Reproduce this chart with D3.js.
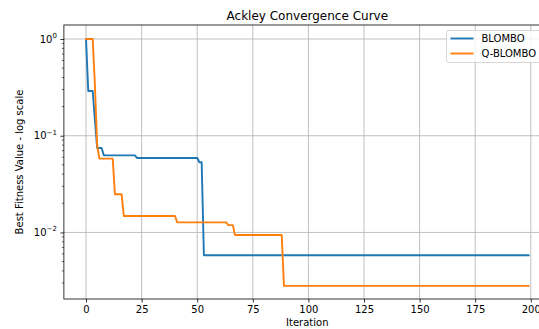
<!DOCTYPE html>
<html>
<head>
<meta charset="utf-8">
<script src="https://cdn.jsdelivr.net/npm/d3@7"></script>
<style>
  body { margin: 0; background: #fff; }
  svg { display: block; font-family: "DejaVu Sans", sans-serif; }
</style>
</head>
<body>
<div id="chart"></div>
<script>
// data (vertices of the step curves)
var blomboIter = [0, 1, 3, 4, 5, 7, 8, 22, 23, 50, 51, 52, 53, 199];
var blomboBest = [1.0, 0.29, 0.29, 0.145, 0.0746, 0.0746, 0.0627, 0.0627, 0.0588, 0.0588, 0.0531, 0.0531, 0.0058, 0.0058];

var qblomboIter = [0, 3, 4, 5, 6, 12, 13, 16, 17, 40, 41, 63, 64, 66, 67, 88, 89, 199];
var qblomboBest = [1.0, 1.0, 0.33, 0.08, 0.058, 0.058, 0.0248, 0.0248, 0.0148, 0.0148, 0.0127, 0.0127, 0.0119, 0.0119, 0.0094, 0.0094, 0.0028, 0.0028];

var seriesNames = ["BLOMBO", "Q-BLOMBO"];
var xTicks = [0, 25, 50, 75, 100, 125, 150, 175, 200];
var yTicks = [1, 0.1, 0.01];
var yTickExp = ["0", "\u22121", "\u22122"];

var colors = { blue: "#1f77b4", orange: "#ff7f0e", grid: "#b0b0b0" };

function render() {
    var width = 539, height = 329;
    // axes box (right side runs past the window like in the reference)
    var left = 63.9, right = 550.7, top = 25, bottom = 299;

    var svg = d3.select("#chart").append("svg")
        .attr("width", width)
        .attr("height", height);

    var x = d3.scaleLinear().domain([-9.95, 208.95]).range([left, right]);
    var y = d3.scaleLog().domain([0.00205, 1.396]).range([bottom, top]);

    //grid
    var grid = svg.append("g").attr("class", "grid");
    grid.selectAll(".gx").data(xTicks).enter().append("line")
        .attr("x1", function(d){ return x(d); })
        .attr("x2", function(d){ return x(d); })
        .attr("y1", top).attr("y2", bottom)
        .style("stroke", colors.grid).style("stroke-width", 0.8);
    grid.selectAll(".gy").data(yTicks).enter().append("line")
        .attr("x1", left).attr("x2", right)
        .attr("y1", function(d){ return y(d); })
        .attr("y2", function(d){ return y(d); })
        .style("stroke", colors.grid).style("stroke-width", 0.8);

    //x axis
    var xAxis = d3.axisBottom(x).tickValues(xTicks).tickSize(3.5).tickPadding(3.5)
        .tickFormat(d3.format("d"));
    var gx = svg.append("g")
        .attr("transform", "translate(0," + bottom + ")")
        .call(xAxis);
    gx.select(".domain").remove();
    gx.selectAll("line").style("stroke", "#000").style("stroke-width", 0.8);
    gx.selectAll("text").style("font-size", "10px").style("fill", "#000")
        .style("font-family", "DejaVu Sans");

    //y axis, minor ticks first
    var minor = [];
    [0.001, 0.01, 0.1].forEach(function(dec){
        for (var k = 2; k <= 9; k++) {
            var v = dec * k;
            if (v >= y.domain()[0] && v <= y.domain()[1]) minor.push(v);
        }
    });
    svg.selectAll(".ymin").data(minor).enter().append("line")
        .attr("x1", left - 2).attr("x2", left)
        .attr("y1", function(d){ return y(d); })
        .attr("y2", function(d){ return y(d); })
        .style("stroke", "#000").style("stroke-width", 0.6);

    var yAxis = d3.axisLeft(y).tickValues(yTicks).tickSize(3.5).tickPadding(3.5)
        .tickFormat(function(){ return ""; });
    var gy = svg.append("g")
        .attr("transform", "translate(" + left + ",0)")
        .call(yAxis);
    gy.select(".domain").remove();
    gy.selectAll("line").style("stroke", "#000").style("stroke-width", 0.8);

    //log tick labels as 10^n
    var yl = svg.selectAll(".ylab").data(yTicks).enter().append("text")
        .attr("x", left - 7)
        .attr("y", function(d){ return y(d) + 3.5; })
        .attr("text-anchor", "end")
        .style("font-size", "10px");
    yl.append("tspan").text("10");
    yl.append("tspan")
        .attr("dy", -4.5)
        .style("font-size", "7px")
        .text(function(d, i){ return yTickExp[i]; });

    //lines
    var line = d3.line()
        .x(function(d){ return x(d[0]); })
        .y(function(d){ return y(d[1]); });

    var blomboPts = blomboIter.map(function(d, i){ return [d, blomboBest[i]]; });
    var qblomboPts = qblomboIter.map(function(d, i){ return [d, qblomboBest[i]]; });

    svg.append("path").datum(blomboPts)
        .attr("d", line)
        .style("fill", "none").style("stroke", colors.blue)
        .style("stroke-width", 1.9).style("stroke-linejoin", "round")
        .style("stroke-linecap", "square");
    svg.append("path").datum(qblomboPts)
        .attr("d", line)
        .style("fill", "none").style("stroke", colors.orange)
        .style("stroke-width", 1.9).style("stroke-linejoin", "round")
        .style("stroke-linecap", "square");

    //spines
    svg.append("rect")
        .attr("x", left).attr("y", top)
        .attr("width", right - left).attr("height", bottom - top)
        .style("fill", "none").style("stroke", "#000").style("stroke-width", 0.8);

    //title and labels
    svg.append("text")
        .attr("x", (left + right) / 2).attr("y", 19.5)
        .attr("text-anchor", "middle")
        .style("font-size", "12px")
        .text("Ackley Convergence Curve");
    svg.append("text")
        .attr("x", (left + right) / 2).attr("y", 326)
        .attr("text-anchor", "middle")
        .style("font-size", "10px")
        .text("Iteration");
    svg.append("text")
        .attr("transform", "translate(23," + ((top + bottom) / 2) + ") rotate(-90)")
        .attr("text-anchor", "middle")
        .style("font-size", "10px")
        .text("Best Fitness Value - log scale");

    /////////////key//////////////
    var legend = svg.append("g").attr("transform", "translate(446.5,30.5)");
    legend.append("rect")
        .attr("width", 100).attr("height", 32)
        .attr("rx", 2)
        .style("fill", "white").style("fill-opacity", 0.8)
        .style("stroke", "#cccccc").style("stroke-width", 0.8);
    legend.selectAll(".item")
        .data([{ color: colors.blue, text: seriesNames[0] }, { color: colors.orange, text: seriesNames[1] }])
        .enter().append("g")
        .attr("class", "item")
        .attr("transform", function(d, i){ return "translate(0," + (8 + i * 15) + ")"; })
        .each(function(d){
            var g = d3.select(this);
            g.append("line")
                .attr("x1", 4).attr("x2", 27)
                .style("stroke", d.color).style("stroke-width", 1.9);
            g.append("text")
                .attr("x", 35).attr("y", 3.6)
                .style("font-size", "10px")
                .text(d.text);
        });
}

render();
</script>
</body>
</html>
